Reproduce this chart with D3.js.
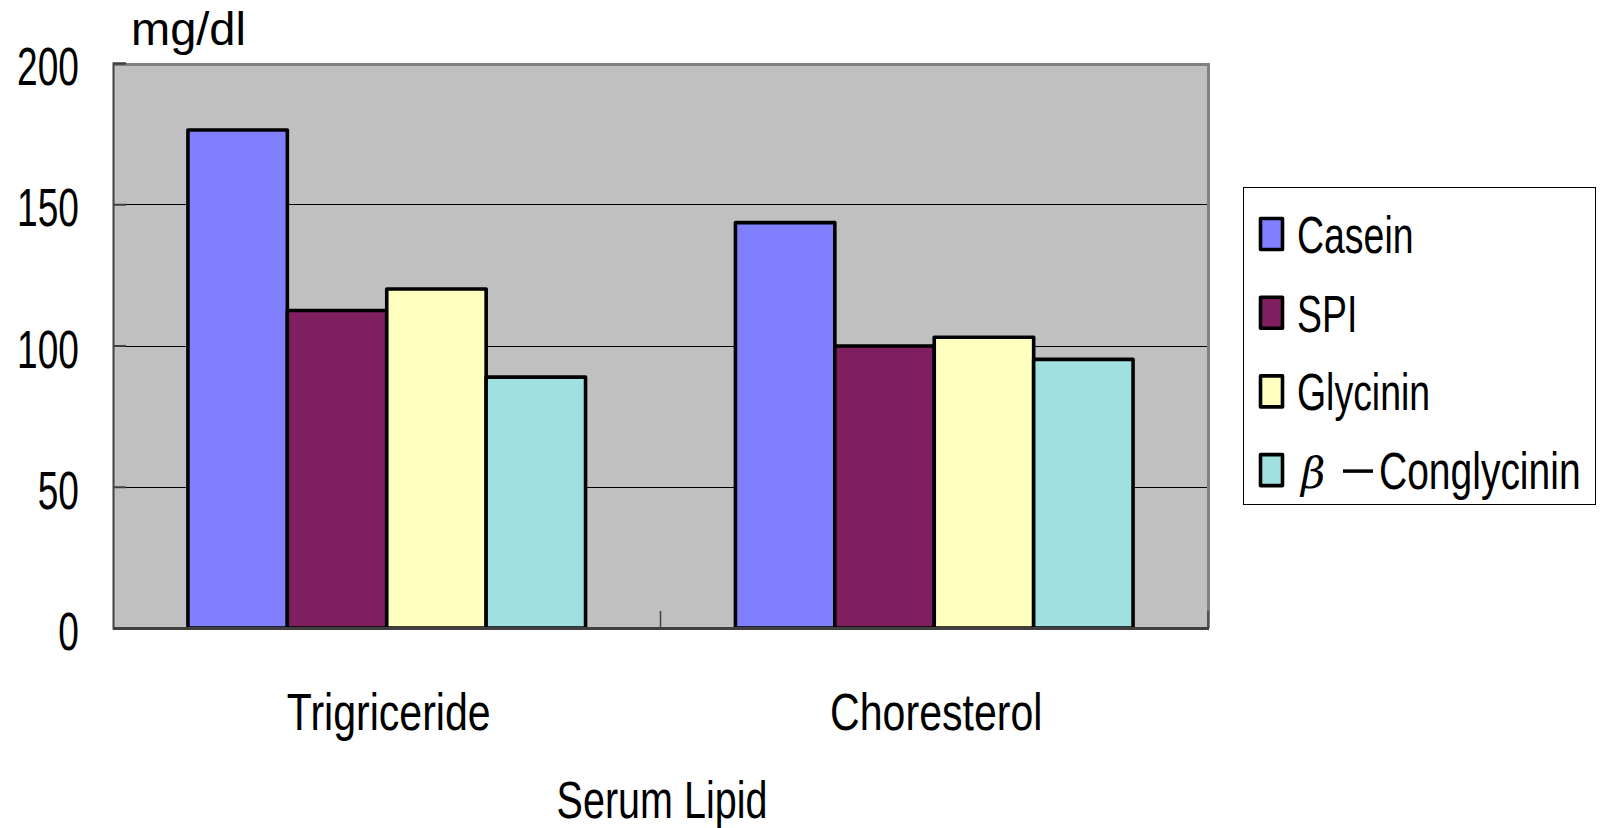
<!DOCTYPE html>
<html>
<head>
<meta charset="utf-8">
<script src="https://cdn.jsdelivr.net/npm/d3@7"></script>
<style>
  html, body { margin: 0; padding: 0; background: #fff; }
  svg { display: block; }
  .narrow { font-family: "Liberation Sans", Arial, sans-serif; }
</style>
</head>
<body>
<svg id="chart" width="1601" height="828"></svg>
<script>
const categories = ["Trigriceride", "Choresterol"];
const seriesNames = ["Casein", "SPI", "Glycinin", "β－Conglycinin"];
const seriesColors = ["#8080FF", "#7F1F5F", "#FFFFC0", "#A0E0E0"];
const casein = [176.3, 143.5];
const spi = [112.4, 99.8];
const glycinin = [120.0, 102.9];
const conglycinin = [88.8, 95.1];
const yTicks = [0, 50, 100, 150, 200];
const yUnit = "mg/dl";
const xTitle = "Serum Lipid";

const seriesValues = [casein, spi, glycinin, conglycinin];

const svg = d3.select("#chart");
const plot = { left: 113, right: 1208, top: 63, bottom: 628 };

const x0 = d3.scaleBand().domain(categories).range([plot.left, plot.right]).paddingInner(0).paddingOuter(0);
const x1 = d3.scaleBand().domain(seriesNames).range([0, x0.bandwidth()]).paddingInner(0).paddingOuter(0.754);
const y = d3.scaleLinear().domain([0, 200]).range([plot.bottom, plot.top]);

// condensed text helper
function condensed(sel, sx) {
  return sel.attr("class", "narrow")
    .attr("transform", function() {
      const x = +this.getAttribute("data-x"), yy = +this.getAttribute("data-y");
      return `translate(${x},${yy}) scale(${sx},1)`;
    });
}

// plot background
svg.append("rect")
  .attr("x", plot.left).attr("y", plot.top)
  .attr("width", plot.right - plot.left).attr("height", plot.bottom - plot.top)
  .attr("fill", "#C0C0C0");

// gridlines
svg.append("g").selectAll("line")
  .data(yTicks.filter(t => t > 0 && t < 200))
  .join("line")
  .attr("x1", plot.left).attr("x2", plot.right)
  .attr("y1", d => Math.round(y(d)) + 0.5).attr("y2", d => Math.round(y(d)) + 0.5)
  .attr("stroke", "#000").attr("stroke-width", 1);

// frame top/right
svg.append("path")
  .attr("d", `M${plot.left},${plot.top + 1.5} H${plot.right + 0.5} V${plot.bottom}`)
  .attr("fill", "none").attr("stroke", "#808080").attr("stroke-width", 3);

// bars
const groups = svg.append("g").selectAll("g")
  .data(categories)
  .join("g")
  .attr("transform", d => `translate(${x0(d)},0)`);

groups.selectAll("rect")
  .data((c, ci) => seriesNames.map((s, si) => ({ s, si, v: seriesValues[si][ci] })))
  .join("rect")
  .attr("x", d => x1(d.s))
  .attr("y", d => y(d.v))
  .attr("width", x1.bandwidth())
  .attr("height", d => y(0) - y(d.v))
  .attr("fill", d => seriesColors[d.si])
  .attr("stroke", "#000")
  .attr("stroke-width", 3.6)
  .attr("stroke-linejoin", "round");

// left axis
const yAxis = d3.axisRight(y).tickValues(yTicks).tickSize(13).tickFormat("");
const gy = svg.append("g").attr("transform", `translate(${plot.left},0)`).call(yAxis);
gy.select(".domain").attr("stroke", "#404040").attr("stroke-width", 2);
gy.selectAll(".tick line").attr("stroke", "#404040").attr("stroke-width", 2);

// y labels
svg.append("g").selectAll("text")
  .data(yTicks)
  .join("text")
  .attr("data-x", 79)
  .attr("data-y", d => y(d) + 22)
  .attr("text-anchor", "end")
  .attr("font-size", 53)
  .attr("fill", "#000")
  .text(d => d)
  .call(condensed, 0.70);

// bottom axis
const xAxisLine = svg.append("g");
xAxisLine.append("line")
  .attr("x1", plot.left).attr("x2", plot.right + 1)
  .attr("y1", plot.bottom + 0.5).attr("y2", plot.bottom + 0.5)
  .attr("stroke", "#404040").attr("stroke-width", 3);
xAxisLine.selectAll("line.tk")
  .data([x0(categories[1]), plot.right])
  .join("line")
  .attr("class", "tk")
  .attr("x1", d => d).attr("x2", d => d)
  .attr("y1", plot.bottom).attr("y2", plot.bottom - 17)
  .attr("stroke", "#404040").attr("stroke-width", 1.5);

// category labels
svg.append("g").selectAll("text")
  .data(categories)
  .join("text")
  .attr("data-x", d => x0(d) + x0.bandwidth() / 2 + 2)
  .attr("data-y", 730)
  .attr("text-anchor", "middle")
  .attr("font-size", 52)
  .text(d => d)
  .call(condensed, 0.79);

// x title
svg.append("text")
  .attr("data-x", 662)
  .attr("data-y", 818)
  .attr("text-anchor", "middle")
  .attr("font-size", 52)
  .text(xTitle)
  .call(condensed, 0.76);

// y unit
svg.append("text")
  .attr("x", 131)
  .attr("y", 45)
  .attr("font-family", "'Liberation Sans', Arial, sans-serif")
  .attr("font-size", 47)
  .text(yUnit);

// legend
const legend = svg.append("g");
legend.append("rect")
  .attr("x", 1243.5).attr("y", 187.5)
  .attr("width", 352).attr("height", 317)
  .attr("fill", "#fff").attr("stroke", "#000").attr("stroke-width", 1);

const items = legend.selectAll("g.item")
  .data(seriesNames)
  .join("g")
  .attr("class", "item")
  .attr("transform", (d, i) => `translate(0,${235 + i * 78.7})`);

items.append("rect")
  .attr("x", 1260.5).attr("y", -16.5)
  .attr("width", 22).attr("height", 31)
  .attr("fill", (d, i) => seriesColors[i])
  .attr("stroke", "#000").attr("stroke-width", 3.6)
  .attr("stroke-linejoin", "round");

items.each(function(d) {
  const g = d3.select(this);
  if (d.startsWith("β")) {
    g.append("text")
      .attr("x", 1301).attr("y", 17)
      .attr("font-family", "'DejaVu Serif', 'Liberation Serif', serif")
      .attr("font-style", "italic")
      .attr("font-size", 42)
      .text("β");
    g.append("line")
      .attr("x1", 1343).attr("x2", 1373)
      .attr("y1", 0).attr("y2", 0)
      .attr("stroke", "#000").attr("stroke-width", 3.5);
    g.append("text")
      .attr("data-x", 1379).attr("data-y", 18)
      .attr("font-size", 52)
      .text(d.slice(2))
      .call(condensed, 0.75);
  } else {
    g.append("text")
      .attr("data-x", 1297).attr("data-y", 18)
      .attr("font-size", 52)
      .text(d)
      .call(condensed, 0.72);
  }
});
</script>
</body>
</html>
